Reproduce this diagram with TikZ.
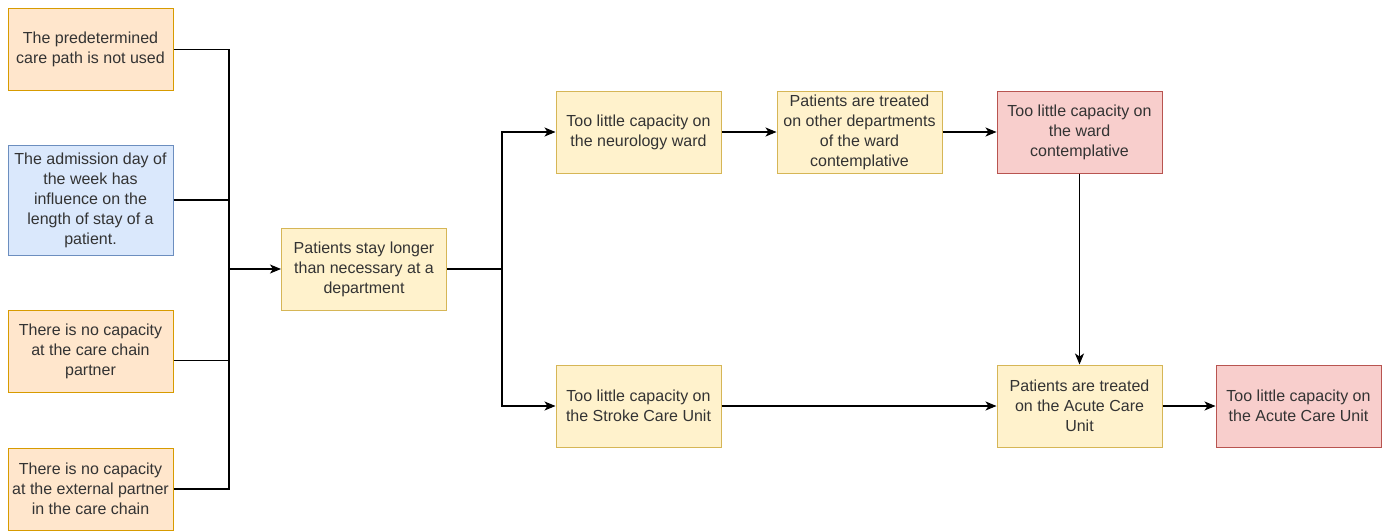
\documentclass[tikz,border=0pt]{standalone}
\usepackage{fontspec}
\setmainfont{Liberation Sans}
\usetikzlibrary{arrows.meta}
\definecolor{orfill}{HTML}{FFE6CC}\definecolor{ordraw}{HTML}{D79B00}
\definecolor{blfill}{HTML}{DAE8FC}\definecolor{bldraw}{HTML}{6C8EBF}
\definecolor{yefill}{HTML}{FFF2CC}\definecolor{yedraw}{HTML}{D6B656}
\definecolor{refill}{HTML}{F8CECC}\definecolor{redraw}{HTML}{B85450}
\definecolor{txt}{HTML}{333333}
\tikzset{
  box/.style={rectangle, minimum width=165pt, minimum height=82pt, inner sep=0pt, align=center,
    font=\fontsize{16}{20}\selectfont, text=txt, line width=1pt},
  orbox/.style={box, fill=orfill, draw=ordraw},
  blbox/.style={box, fill=blfill, draw=bldraw, minimum height=110pt},
  yebox/.style={box, fill=yefill, draw=yedraw},
  rebox/.style={box, fill=refill, draw=redraw},
  conn/.style={line width=1.1pt, black},
  arr/.style={conn, -{Stealth[length=11pt,width=9pt,inset=3pt]}}
}
\begin{document}
\begin{tikzpicture}[x=1pt,y=-1pt]
\useasboundingbox (0,0) rectangle (1388,530);
\node[orbox] (a1) at (90.5,49.5) {The predetermined\\care path is not used};
\node[blbox] (a2) at (90.5,200) {The admission day of\\the week has\\influence on the\\length of stay of a\\patient.};
\node[orbox] (a3) at (90.5,351.5) {There is no capacity\\at the care chain\\partner};
\node[orbox] (a4) at (90.5,489) {There is no capacity\\at the external partner\\in the care chain};
\node[yebox] (p) at (364,269) {Patients stay longer\\than necessary at a\\department};
\node[yebox] (n1) at (638.5,132) {Too little capacity on\\the neurology ward};
\node[yebox] (n2) at (859.5,132) {Patients are treated\\on other departments\\of the ward\\contemplative};
\node[rebox] (n3) at (1079.5,132) {Too little capacity on\\the ward\\contemplative};
\node[yebox] (s) at (638.5,406) {Too little capacity on\\the Stroke Care Unit};
\node[yebox] (acu) at (1079.5,406) {Patients are treated\\on the Acute Care\\Unit};
\node[rebox] (r2) at (1298.5,406) {Too little capacity on\\the Acute Care Unit};
\coordinate (j1) at (229,269);
\coordinate (j2) at (502,269);
\draw[conn] (a1.east) -| (j1);
\draw[conn] (a2.east) -| (j1);
\draw[conn] ([yshift=-9pt]a3.east) -| (j1);
\draw[conn] (a4.east) -| (j1);
\draw[arr] (j1) -- (p.west);
\draw[conn] (p.east) -- (j2);
\draw[arr] (j2) |- (n1.west);
\draw[arr] (j2) |- (s.west);
\draw[arr] (n1.east) -- (n2.west);
\draw[arr] (n2.east) -- (n3.west);
\draw[arr] (n3.south) -- (acu.north);
\draw[arr] (s.east) -- (acu.west);
\draw[arr] (acu.east) -- (r2.west);
\end{tikzpicture}
\end{document}
